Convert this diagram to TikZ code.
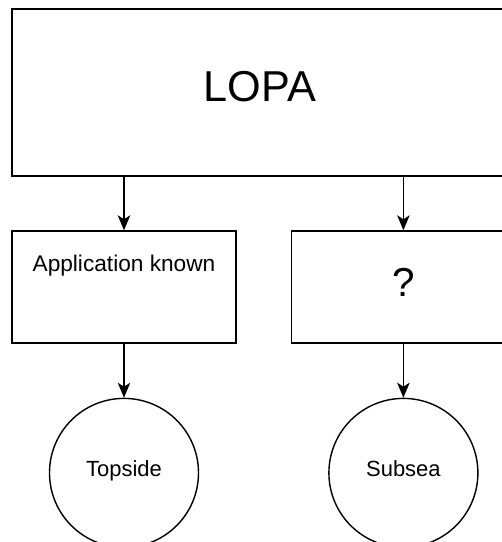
\documentclass[tikz,border=0pt]{standalone}
\usepackage{fontspec}
\setmainfont{Liberation Sans}
\usetikzlibrary{arrows.meta,positioning}

\begin{document}
\begin{tikzpicture}[
    box/.style={draw, line width=0.8pt, minimum width=4.48cm, minimum height=2.24cm, inner sep=0pt},
    state/.style={draw, circle, line width=0.8pt, minimum size=2.98cm, inner sep=0pt, text height=0.33cm, text depth=0.19cm, font=\fontsize{12.5}{15}\selectfont},
    arrow/.style={-{Stealth[length=0.3cm, width=0.25cm, inset=0.08cm]}, line width=0.8pt},
  ]
  \useasboundingbox[fill=white] (0,0) rectangle (10.04,10.84);
  \clip (0,0) rectangle (10.04,10.84);
  \node[draw, line width=0.8pt, minimum width=9.92cm, minimum height=3.34cm, text depth=0.24cm, font=\fontsize{24.6}{30}\selectfont] (lopa) at (5.2,8.99) {LOPA};
  \node[box] (app) at (2.48,5.10) {};
  \node[anchor=north, inner sep=0pt, font=\fontsize{12.9}{15}\selectfont, below=0.48cm of app.north] (applbl) {Application known};
  \node[box, right=1.08cm of app, text depth=0.2cm, font=\fontsize{23}{27}\selectfont] (unknown) {?};
  \node[state, below=1.08cm of app] (topside) {Topside};
  \node[state, below=1.08cm of unknown] (subsea) {Subsea};
  \draw[arrow] (lopa.south -| app.north) -- (app.north);
  \draw[arrow] (lopa.south -| unknown.north) -- (unknown.north);
  \foreach \a/\b in {app/topside, unknown/subsea}
    \draw[arrow] (\a) -- (\b);
\end{tikzpicture}
\end{document}
